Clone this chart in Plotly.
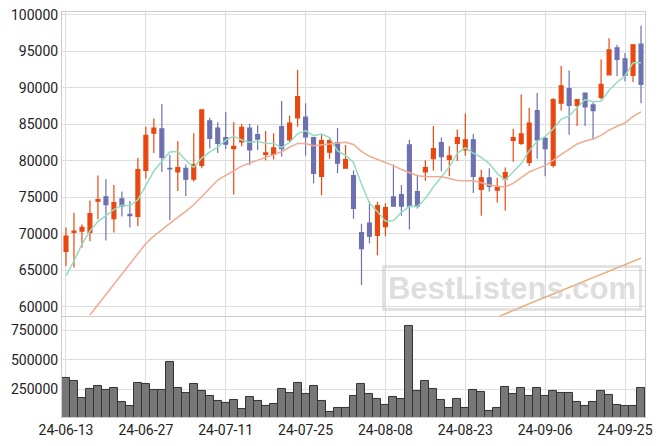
import plotly.graph_objects as go

dates = [
    "24-06-13", "24-06-14", "24-06-17", "24-06-18", "24-06-19", "24-06-20", "24-06-21",
    "24-06-24", "24-06-25", "24-06-26", "24-06-27", "24-06-28",
    "24-07-01", "24-07-02", "24-07-03", "24-07-04", "24-07-05", "24-07-08", "24-07-09",
    "24-07-10", "24-07-11", "24-07-12", "24-07-15", "24-07-16", "24-07-17", "24-07-18",
    "24-07-19", "24-07-22", "24-07-23", "24-07-24", "24-07-25", "24-07-26", "24-07-29",
    "24-07-30", "24-07-31",
    "24-08-01", "24-08-02", "24-08-05", "24-08-06", "24-08-07", "24-08-08", "24-08-09",
    "24-08-12", "24-08-13", "24-08-14", "24-08-16", "24-08-19", "24-08-20", "24-08-21",
    "24-08-22", "24-08-23", "24-08-26", "24-08-27", "24-08-28", "24-08-29", "24-08-30",
    "24-09-02", "24-09-03", "24-09-04", "24-09-05", "24-09-06", "24-09-09", "24-09-10",
    "24-09-11", "24-09-12", "24-09-13", "24-09-19", "24-09-20", "24-09-23", "24-09-24",
    "24-09-25", "24-09-26", "24-09-27",
]

opens = [67600, 70200, 70400, 70200, 74500, 75100, 72100, 74800, 72700, 72400,
         78700, 83800, 84400, 79000, 78500, 79000, 77500, 79400, 85500, 84500,
         83200, 81700, 82600, 84500, 83600, 80900, 80900, 84700, 82900, 85900,
         86000, 83200, 77900, 81200, 82500, 79000, 78000, 70200, 71500, 69800,
         71000, 75100, 75400, 82200, 75800, 78500, 80300, 82500, 80200, 82400,
         81500, 82900, 76100, 77700, 76000, 77500, 82800, 82400, 79800, 86900,
         83100, 79400, 87900, 89900, 87600, 89300, 87700, 88700, 91800, 95500,
         94000, 91700, 96000]
highs = [70900, 72900, 71300, 74600, 78000, 77500, 76700, 75800, 74500, 80400,
         84700, 85800, 87800, 80800, 82700, 79500, 83800, 87000, 85900, 85300,
         86700, 85300, 85100, 85100, 84900, 84100, 83800, 88200, 86200, 92500,
         87900, 83200, 83600, 83200, 84500, 82200, 78700, 71400, 74500, 74400,
         74200, 79500, 76700, 82900, 78100, 80100, 84800, 83200, 82000, 84300,
         86500, 83700, 78800, 79000, 77700, 79100, 84400, 89100, 87300, 89300,
         83400, 88600, 93000, 92400, 88400, 89300, 88000, 93900, 96800, 95900,
         94800, 95900, 98500]
lows = [65600, 65400, 68100, 69000, 72000, 69100, 70200, 72400, 70900, 71100,
        77600, 81100, 78500, 71900, 75900, 75200, 77200, 79000, 81700, 81100,
        81600, 75400, 82000, 79400, 81500, 80100, 80200, 80600, 82600, 84700,
        80700, 76900, 75300, 80300, 78300, 79000, 72100, 63000, 68700, 67100,
        69700, 73800, 72500, 70600, 73500, 77300, 78700, 78600, 77900, 80000,
        80700, 75600, 72500, 75800, 74300, 73200, 79900, 82200, 79300, 80300,
        77900, 79100, 86900, 83600, 84800, 84800, 82900, 88400, 91700, 91600,
        90900, 90800, 87900]
closes = [69700, 70400, 70900, 72800, 74700, 74000, 74300, 73800, 72500, 78800,
          83500, 84500, 80500, 78900, 79100, 77500, 79500, 87000, 83100, 82400,
          82300, 82000, 84600, 81500, 83000, 81100, 81800, 81700, 85200, 88800,
          83300, 78300, 82800, 82800, 79700, 80200, 73500, 68000, 69700, 73900,
          73600, 73800, 73800, 73800, 73800, 79100, 81700, 80600, 80700, 83200,
          82900, 77900, 77700, 76500, 76400, 78400, 83200, 83700, 85200, 82900,
          81700, 88400, 90300, 87600, 88400, 87400, 86900, 90500, 95200, 93900,
          91700, 95900, 90500]

volumes = [350000, 319000, 178000, 250000, 275000, 244000, 258000, 142000, 108000, 308000,
           292000, 242000, 242000, 483000, 258000, 217000, 292000, 233000, 192000, 153000,
           133000, 161000, 86000, 183000, 153000, 108000, 125000, 250000, 219000, 300000,
           208000, 275000, 150000, 61000, 92000, 92000, 192000, 292000, 208000, 167000,
           117000, 183000, 167000, 783000, 233000, 317000, 250000, 158000, 92000, 167000,
           92000, 242000, 225000, 67000, 92000, 267000, 208000, 258000, 192000, 258000,
           192000, 233000, 217000, 217000, 142000, 108000, 142000, 233000, 200000, 117000,
           108000, 108000, 258000]

ma5 = [64300, 66300, 68600, 70400, 71700, 72560, 73340, 73920, 73860, 74680,
       76580, 78620, 79960, 81240, 81300, 80100, 79100, 80400, 81240, 81900,
       82860, 83360, 82880, 82560, 82680, 82440, 82400, 81820, 82560, 83720,
       84160, 83460, 83680, 83200, 81380, 80760, 79800, 76840, 74220, 73060,
       71740, 71800, 72960, 73780, 73760, 74860, 76440, 77800, 79180, 81060,
       81820, 81060, 80480, 79640, 78280, 77380, 78440, 79640, 81380, 82680,
       83340, 84380, 85700, 86180, 87280, 88420, 88120, 88160, 89680, 90780,
       91640, 93440, 93440]

ma20 = [None, None, None, 58900, 60300, 61700, 63100, 64500, 65900, 67300,
        68700, 69700, 70600, 71500, 72300, 73100, 74000, 75100, 76300, 77395,
        78025, 78605, 79290, 79725, 80140, 80495, 80870, 81265, 81900, 82400,
        82390, 82080, 82195, 82390, 82420, 82555, 82255, 81305, 80635, 80210,
        79775, 79365, 78825, 78440, 77980, 77880, 77875, 77820, 77595, 77315,
        77295, 77275, 77020, 76705, 76540, 76450, 76935, 77720, 78495, 78945,
        79350, 80080, 80905, 81595, 82325, 82740, 83000, 83495, 84220, 84755,
        85195, 86095, 86735]

ma_long = [None] * 54 + [58600, 59080, 59520, 60010, 60480, 60900, 61330, 61800, 62270,
                         62720, 63160, 63580, 64020, 64470, 64930, 65380, 65810, 66270,
                         66700]

price_ticks = [60000, 65000, 70000, 75000, 80000, 85000, 90000, 95000, 100000]
volume_ticks = [250000, 500000, 750000]
date_tick_idx = [0, 10, 20, 30, 40, 50, 60, 70]

RED = "#e8470f"
BLUE = "#6d71b0"
FONT = dict(family="Roboto", size=14, color="#222222")
GRID = "#dedede"

fig = go.Figure()

fig.add_trace(go.Candlestick(
    x=dates, open=opens, high=highs, low=lows, close=closes,
    increasing=dict(line=dict(color=RED, width=1.2), fillcolor=RED),
    decreasing=dict(line=dict(color=BLUE, width=1.2), fillcolor=BLUE),
    whiskerwidth=0, xaxis="x2", yaxis="y2", showlegend=False,
))
fig.add_trace(go.Scatter(x=dates, y=ma5, mode="lines", xaxis="x2", yaxis="y2",
                         line=dict(color="#94dcc0", width=1.5), showlegend=False))
fig.add_trace(go.Scatter(x=dates, y=ma20, mode="lines", xaxis="x2", yaxis="y2",
                         line=dict(color="#f1aa92", width=1.5), showlegend=False))
fig.add_trace(go.Scatter(x=dates, y=ma_long, mode="lines", xaxis="x2", yaxis="y2",
                         line=dict(color="#e9a872", width=1.5), showlegend=False))

fig.add_trace(go.Bar(x=dates, y=volumes, xaxis="x", yaxis="y",
                     marker=dict(color="#777777", line=dict(color="#333333", width=1)),
                     showlegend=False))

xcommon = dict(type="category", range=[-0.5, len(dates) - 0.5], autorange=False,
               tickmode="array", tickvals=[dates[i] for i in date_tick_idx],
               ticktext=[dates[i] for i in date_tick_idx],
               showgrid=True, gridcolor=GRID, gridwidth=1,
               showline=True, linecolor="#cccccc", mirror=True, automargin=False,
               tickfont=FONT, ticks="", fixedrange=True)

ycommon = dict(showgrid=True, gridcolor=GRID, showline=True, linecolor="#cccccc",
               mirror=True, tickfont=FONT, zeroline=False, automargin=False,
               tickmode="array", autorange=False, fixedrange=True)

fig.update_layout(
    width=663, height=446,
    margin=dict(l=62, r=18, t=12, b=29, autoexpand=False),
    paper_bgcolor="white", plot_bgcolor="white",
    bargap=0.0,
    xaxis=dict(**xcommon, domain=[0, 1], anchor="y"),
    xaxis2=dict(**xcommon, domain=[0, 1], anchor="y2", showticklabels=False,
                rangeslider=dict(visible=False)),
    yaxis=dict(**ycommon, domain=[0, 0.247], range=[17000, 860000],
               tickvals=volume_ticks, ticktext=[str(v) for v in volume_ticks], anchor="x"),
    yaxis2=dict(**ycommon, domain=[0.25, 1], range=[58800, 100400],
                tickvals=price_ticks, ticktext=[str(v) for v in price_ticks], anchor="x2"),
    annotations=[dict(
        text="<b>BestListens.com</b>", xref="paper", yref="paper",
        x=0.7725, y=0.318, xanchor="center", yanchor="middle", showarrow=False,
        font=dict(family="Liberation Sans", size=31, color="rgba(200,200,200,0.6)"),
        width=252, height=38, bordercolor="rgba(190,190,190,0.45)", borderwidth=3,
    )],
)

fig.write_html("out.html", config={"displayModeBar": False},
               post_script="document.body.style.margin='0px';document.body.style.overflow='hidden';")
